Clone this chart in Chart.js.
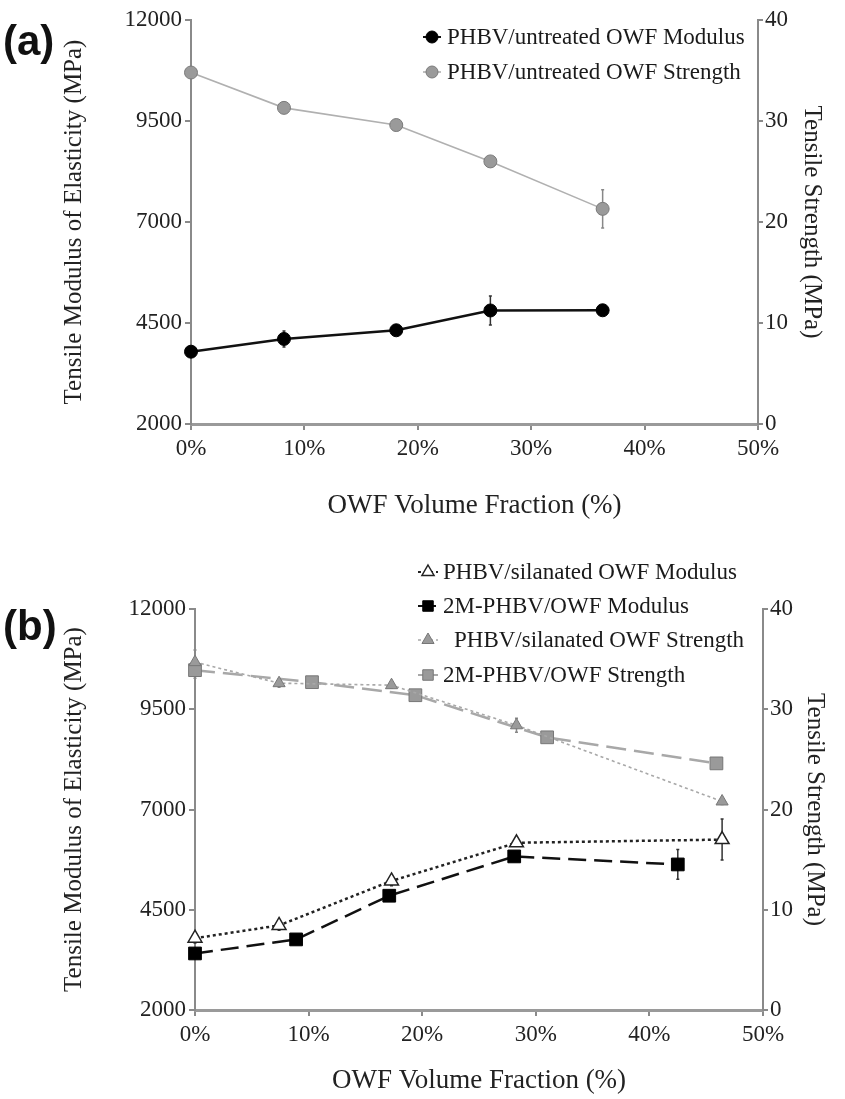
<!DOCTYPE html>
<html><head><meta charset="utf-8">
<script src="https://cdn.jsdelivr.net/npm/chart.js@4.4.1/dist/chart.umd.min.js"></script>
<style>
html,body{margin:0;padding:0;background:#fff;width:845px;height:1099px;overflow:hidden;}
.wrap{position:absolute;left:0;width:845px;}
#wa{top:0;height:540px;}
#wb{top:550px;height:549px;}
.lab{position:absolute;font:bold 42px "Liberation Sans",Arial,sans-serif;color:#111;line-height:1;}
</style></head><body>
<div class="wrap" id="wa"><canvas id="ca" width="845" height="540"></canvas></div>
<div class="wrap" id="wb"><canvas id="cb" width="845" height="549"></canvas></div>
<div class="lab" style="left:3px;top:20px">(a)</div>
<div class="lab" style="left:3px;top:605px">(b)</div>
<script>
// ---------- DATA ----------
const xTickLabels = ['0%','10%','20%','30%','40%','50%'];
const modulusTicks = [2000, 4500, 7000, 9500, 12000];
const strengthTicks = [0, 10, 20, 30, 40];

// (a)
const aUntreatedX = [0, 8.2, 18.1, 26.4, 36.3];
const aUntreatedModulus = [3790, 4105, 4320, 4810, 4815];
const aUntreatedModulusErr = [60, 200, 70, 360, 80];
const aUntreatedStrength = [34.8, 31.3, 29.6, 26.0, 21.3];
const aUntreatedStrengthErr = [0.4, 0.5, 0.4, 0.4, 1.9];

// (b)
const bSilanatedX = [0, 7.4, 17.3, 28.3, 46.4];
const bSilanatedModulus = [3790, 4110, 5220, 6170, 6250];
const bSilanatedModulusErr = [120, 120, 120, 80, 510];
const bSilanatedStrength = [34.7, 32.6, 32.4, 28.4, 20.8];
const bSilanatedStrengthErr = [1.2, 0.4, 0.3, 0.7, 0.3];
const b2MModulusX = [0, 8.9, 17.1, 28.1, 42.5];
const b2MModulus = [3410, 3760, 4850, 5830, 5630];
const b2MModulusErr = [100, 60, 120, 100, 370];
const b2MStrengthX = [0, 10.3, 19.4, 31.0, 45.9];
const b2MStrength = [33.9, 32.7, 31.4, 27.2, 24.6];
const b2MStrengthErr = [0.8, 0.3, 0.3, 0.3, 0.3];

const labelsA = ['PHBV/untreated OWF Modulus', 'PHBV/untreated OWF Strength'];
const labelsB = ['PHBV/silanated OWF Modulus', '2M-PHBV/OWF Modulus', 'PHBV/silanated OWF Strength', '2M-PHBV/OWF Strength'];
const titleX = 'OWF Volume Fraction (%)';
const titleYL = 'Tensile Modulus of Elasticity (MPa)';
const titleYR = 'Tensile Strength (MPa)';

// ---------- HELPERS ----------
const FONT = '"Liberation Serif","Times New Roman",serif';
const AXC = '#8a8a8a';
const pts = (xs, ys) => xs.map((x, i) => ({x, y: ys[i]}));

function xScale(height, titlePadBottom) {
  return {
    type: 'linear', position: 'bottom', min: 0, max: 50,
    afterBuildTicks(s) { s.ticks = xTickLabels.map((_, i) => ({value: i * 10})); },
    ticks: {color: '#222', font: {family: FONT, size: 23}, padding: 5, maxRotation: 0,
      callback: (v, i) => xTickLabels[i]},
    grid: {drawOnChartArea: false, drawTicks: true, tickLength: 6, color: AXC, lineWidth: 2},
    border: {display: true, color: '#9a9a9a', width: 3},
    title: {display: true, text: titleX, color: '#222', font: {family: FONT, size: 27}, padding: {top: 0, bottom: titlePadBottom}},
    afterFit(s) { s.height = height; }
  };
}
function yLeft(width, titlePad) {
  return {
    type: 'linear', position: 'left', min: 2000, max: 12000,
    afterBuildTicks(s) { s.ticks = modulusTicks.map(v => ({value: v})); },
    ticks: {color: '#222', font: {family: FONT, size: 23}, padding: 3, callback: v => String(v)},
    grid: {drawOnChartArea: false, drawTicks: true, tickLength: 6, color: AXC, lineWidth: 2},
    border: {display: true, color: AXC, width: 2},
    title: {display: true, text: titleYL, color: '#222', font: {family: FONT, size: 25}, padding: {top: titlePad, bottom: 0}},
    afterFit(s) { s.width = width; }
  };
}
function yRight(width, titlePad) {
  return {
    type: 'linear', position: 'right', min: 0, max: 40,
    afterBuildTicks(s) { s.ticks = strengthTicks.map(v => ({value: v})); },
    ticks: {color: '#222', font: {family: FONT, size: 23}, padding: 2, callback: v => String(v)},
    grid: {drawOnChartArea: false, drawTicks: true, tickLength: 5, color: AXC, lineWidth: 2},
    border: {display: true, color: AXC, width: 2},
    title: {display: true, text: titleYR, color: '#222', font: {family: FONT, size: 25}, padding: {top: titlePad, bottom: 0}},
    afterFit(s) { s.width = width; }
  };
}

const errorBars = {
  id: 'errorBars',
  beforeDatasetsDraw(chart) {
    const ctx = chart.ctx;
    chart.data.datasets.forEach((ds) => {
      if (!ds.errors) return;
      const ys = chart.scales[ds.yAxisID], xs = chart.scales.x;
      ctx.save();
      ctx.strokeStyle = ds.errorColor; ctx.lineWidth = 1.5;
      ds.data.forEach((p, j) => {
        const e = ds.errors[j]; if (!e) return;
        const x = xs.getPixelForValue(p.x);
        const y1 = ys.getPixelForValue(p.y - e), y2 = ys.getPixelForValue(p.y + e);
        ctx.beginPath(); ctx.moveTo(x, y1); ctx.lineTo(x, y2);
        ctx.moveTo(x - 1.5, y1); ctx.lineTo(x + 1.5, y1); ctx.moveTo(x - 1.5, y2); ctx.lineTo(x + 1.5, y2);
        ctx.stroke();
      });
      ctx.restore();
    });
  }
};

function marker(ctx, style, r, x, y) {
  ctx.beginPath();
  if (style === 'triangle') {
    ctx.moveTo(x, y - r); ctx.lineTo(x + r * 0.866, y + r * 0.5); ctx.lineTo(x - r * 0.866, y + r * 0.5); ctx.closePath();
  } else if (style === 'rect') {
    const s = r * 0.75; ctx.rect(x - s, y - s, 2 * s, 2 * s);
  } else {
    ctx.arc(x, y, r, 0, Math.PI * 2);
  }
  ctx.fill(); ctx.stroke();
}

const customLegend = {
  id: 'customLegend',
  afterDraw(chart, args, opts) {
    if (!opts.items) return;
    const ctx = chart.ctx;
    opts.items.forEach((it) => {
      const ds = chart.data.datasets[it.ds];
      const y = it.y, mx = opts.markerX;
      ctx.save();
      ctx.strokeStyle = ds.borderColor; ctx.lineWidth = Math.min(ds.borderWidth, 2);
      ctx.setLineDash(ds.borderDash || []);
      ctx.beginPath(); ctx.moveTo(mx - opts.stub, y); ctx.lineTo(mx + opts.stub, y); ctx.stroke();
      ctx.setLineDash([]);
      ctx.fillStyle = ds.pointBackgroundColor; ctx.strokeStyle = ds.pointBorderColor; ctx.lineWidth = ds.pointBorderWidth;
      marker(ctx, ds.pointStyle, opts.radius, mx, y);
      ctx.fillStyle = '#1a1a1a';
      ctx.font = (it.bold ? 'bold ' : '') + opts.fontSize + 'px ' + FONT;
      ctx.textBaseline = 'middle'; ctx.textAlign = 'left';
      ctx.fillText(ds.label, it.textX, y + 1);
      ctx.restore();
    });
  }
};

const common = {
  responsive: false, animation: false, devicePixelRatio: 1,
  events: []
};

// ---------- CHART A ----------
new Chart(document.getElementById('ca'), {
  type: 'line',
  data: {
    datasets: [
      {label: labelsA[0], data: pts(aUntreatedX, aUntreatedModulus), errors: aUntreatedModulusErr, errorColor: '#333',
        yAxisID: 'y', borderColor: '#111', borderWidth: 2.5, pointStyle: 'circle', pointRadius: 6.5,
        pointBackgroundColor: '#000', pointBorderColor: '#000', pointBorderWidth: 1, clip: false, tension: 0},
      {label: labelsA[1], data: pts(aUntreatedX, aUntreatedStrength), errors: aUntreatedStrengthErr, errorColor: '#888',
        yAxisID: 'y1', borderColor: '#b0b0b0', borderWidth: 1.6, pointStyle: 'circle', pointRadius: 6.5,
        pointBackgroundColor: '#9a9a9a', pointBorderColor: '#7a7a7a', pointBorderWidth: 1, clip: false, tension: 0}
    ]
  },
  options: Object.assign({}, common, {
    layout: {padding: {top: 20, left: 0, right: 0, bottom: 0}},
    scales: {x: xScale(116, 18), y: yLeft(191, 59), y1: yRight(87, 18)},
    plugins: {
      legend: {display: false}, tooltip: {enabled: false},
      customLegend: {markerX: 432, stub: 9, radius: 6, fontSize: 23,
        items: [{ds: 0, y: 37, textX: 447}, {ds: 1, y: 72, textX: 447}]}
    }
  }),
  plugins: [errorBars, customLegend]
});

// ---------- CHART B ----------
new Chart(document.getElementById('cb'), {
  type: 'line',
  data: {
    datasets: [
      {label: labelsB[0], data: pts(bSilanatedX, bSilanatedModulus), errors: bSilanatedModulusErr, errorColor: '#333',
        yAxisID: 'y', borderColor: '#222', borderWidth: 2.5, borderDash: [3, 3], pointStyle: 'triangle', pointRadius: 8,
        pointBackgroundColor: '#fff', pointBorderColor: '#222', pointBorderWidth: 1.5, clip: false, tension: 0},
      {label: labelsB[1], data: pts(b2MModulusX, b2MModulus), errors: b2MModulusErr, errorColor: '#333',
        yAxisID: 'y', borderColor: '#111', borderWidth: 2.5, borderDash: [18, 8], pointStyle: 'rect', pointRadius: 9,
        pointBackgroundColor: '#000', pointBorderColor: '#000', pointBorderWidth: 1, clip: false, tension: 0},
      {label: labelsB[2], data: pts(bSilanatedX, bSilanatedStrength), errors: bSilanatedStrengthErr, errorColor: '#888',
        yAxisID: 'y1', borderColor: '#a8a8a8', borderWidth: 1.6, borderDash: [3, 3], pointStyle: 'triangle', pointRadius: 7,
        pointBackgroundColor: '#9a9a9a', pointBorderColor: '#777', pointBorderWidth: 1, clip: false, tension: 0},
      {label: labelsB[3], data: pts(b2MStrengthX, b2MStrength), errors: b2MStrengthErr, errorColor: '#888',
        yAxisID: 'y1', borderColor: '#a8a8a8', borderWidth: 2.5, borderDash: [20, 8], pointStyle: 'rect', pointRadius: 9,
        pointBackgroundColor: '#9a9a9a', pointBorderColor: '#777', pointBorderWidth: 1, clip: false, tension: 0}
    ]
  },
  options: Object.assign({}, common, {
    layout: {padding: {top: 59, left: 0, right: 0, bottom: 0}},
    scales: {x: xScale(89, 2), y: yLeft(195, 59), y1: yRight(82, 15)},
    plugins: {
      legend: {display: false}, tooltip: {enabled: false},
      customLegend: {markerX: 428, stub: 10, radius: 7, fontSize: 23,
        items: [{ds: 0, y: 22, textX: 443}, {ds: 1, y: 56, textX: 443},
                {ds: 2, y: 90, textX: 454}, {ds: 3, y: 125, textX: 443}]}
    }
  }),
  plugins: [errorBars, customLegend]
});
</script>
</body></html>
